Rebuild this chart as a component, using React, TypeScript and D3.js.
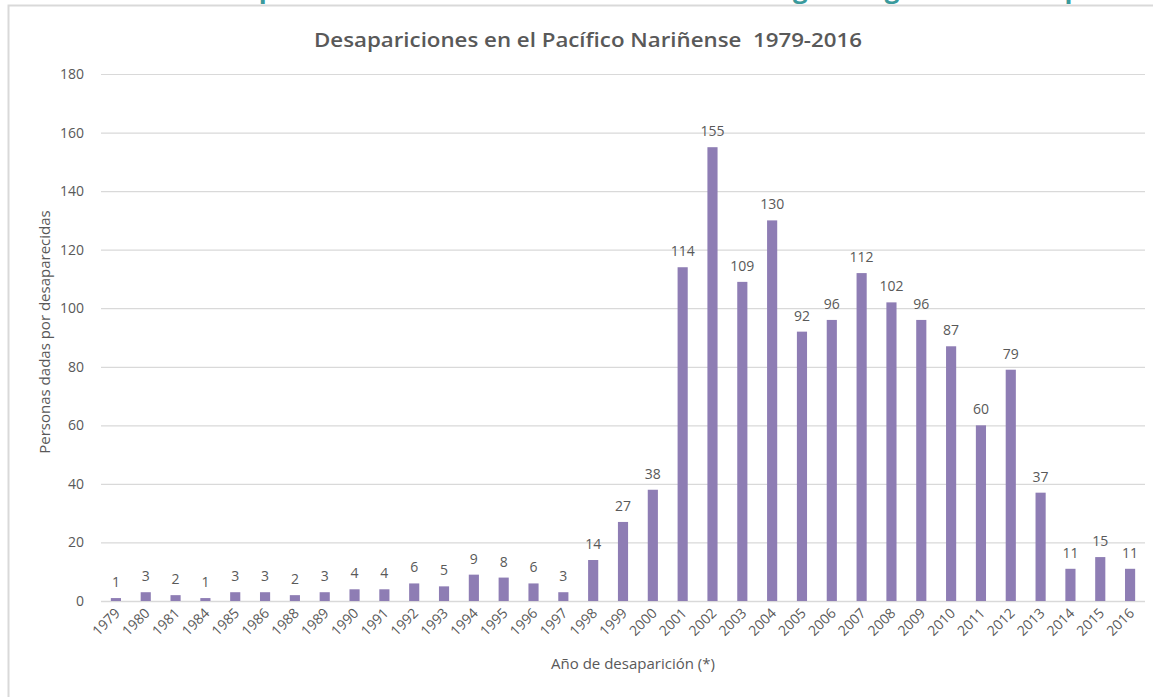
import React from "react";
import * as d3 from "d3";

const YEARS = [
  "1979", "1980", "1981", "1984", "1985", "1986", "1988", "1989", "1990", "1991",
  "1992", "1993", "1994", "1995", "1996", "1997", "1998", "1999", "2000", "2001",
  "2002", "2003", "2004", "2005", "2006", "2007", "2008", "2009", "2010", "2011",
  "2012", "2013", "2014", "2015", "2016",
];
const PERSONS = [
  1, 3, 2, 1, 3, 3, 2, 3, 4, 4,
  6, 5, 9, 8, 6, 3, 14, 27, 38, 114,
  155, 109, 130, 92, 96, 112, 102, 96, 87, 60,
  79, 37, 11, 15, 11,
];
const Y_TICKS = [0, 20, 40, 60, 80, 100, 120, 140, 160, 180];

const TITLE = "Desapariciones en el Pacífico Nariñense\u00a0 1979-2016";
const Y_TITLE = "Personas dadas por desaparecidas";
const X_TITLE = "Año de desaparición (*)";
// heading of the page above the chart, only its lowest pixels are visible
const CUT_HEADING = "5.1 Personas desaparecidas en el Pacífico Nariñense según región de desaparición";

const W = 1153, H = 697;
const BAR = "#8e7db4";
const GRID = "#d9d9d9";
const TEXT = "#595959";
const FONT = "'Open Sans', 'Liberation Sans', sans-serif";

export default function App() {
  const left = 101, right = 1145, top = 74, bottom = 601;

  const x = d3.scaleBand<string>().domain(YEARS).range([left, right]).paddingInner(0.66).paddingOuter(0.33);
  const y = d3.scaleLinear().domain([0, 180]).range([bottom, top]);

  return (
    <svg width={W} height={H} style={{ position: "absolute", left: 0, top: 0, background: "#fff" }} fontFamily={FONT}>
      <defs>
        <clipPath id="headclip">
          <rect x={0} y={0} width={W} height={4} />
        </clipPath>
      </defs>
      <g clipPath="url(#headclip)">
        <text x={4} y={-2} fill="#3a9a9c" fontSize={26} fontWeight={700} letterSpacing={1.5}>
          {CUT_HEADING}
        </text>
      </g>

      {/* chart frame */}
      <path d={`M8.5,${H} V5.5 H${W}`} fill="none" stroke={GRID} strokeWidth={2} />

      <text x={588} y={47} textAnchor="middle" fill={TEXT} fontSize={20} fontWeight={600}
        textLength={548} lengthAdjust="spacingAndGlyphs">{TITLE}</text>

      {Y_TICKS.map(t => (
        <g key={t}>
          <line x1={left} x2={right} y1={y(t) + 0.5} y2={y(t) + 0.5} stroke={GRID} strokeWidth={t === 0 ? 1.5 : 1.2} />
          <text x={84} y={y(t) + 5} textAnchor="end" fill={TEXT} fontSize={14}>{t}</text>
        </g>
      ))}

      {YEARS.map((yr, i) => {
        const bx = x(yr)!;
        const bw = x.bandwidth();
        const cx = bx + bw / 2;
        return (
          <g key={yr}>
            <rect x={bx} y={y(PERSONS[i])} width={bw} height={bottom - y(PERSONS[i])} fill={BAR} />
            <text x={cx} y={y(PERSONS[i]) - 11} textAnchor="middle" fill={TEXT} fontSize={14}>{PERSONS[i]}</text>
            <text transform={`translate(${cx + 5},${bottom + 13}) rotate(-45)`} textAnchor="end" fill={TEXT} fontSize={14}>{yr}</text>
          </g>
        );
      })}

      <text transform={`translate(50,332) rotate(-90)`} textAnchor="middle" fill={TEXT} fontSize={15}>{Y_TITLE}</text>
      <text x={633} y={669} textAnchor="middle" fill={TEXT} fontSize={15}>{X_TITLE}</text>
    </svg>
  );
}
